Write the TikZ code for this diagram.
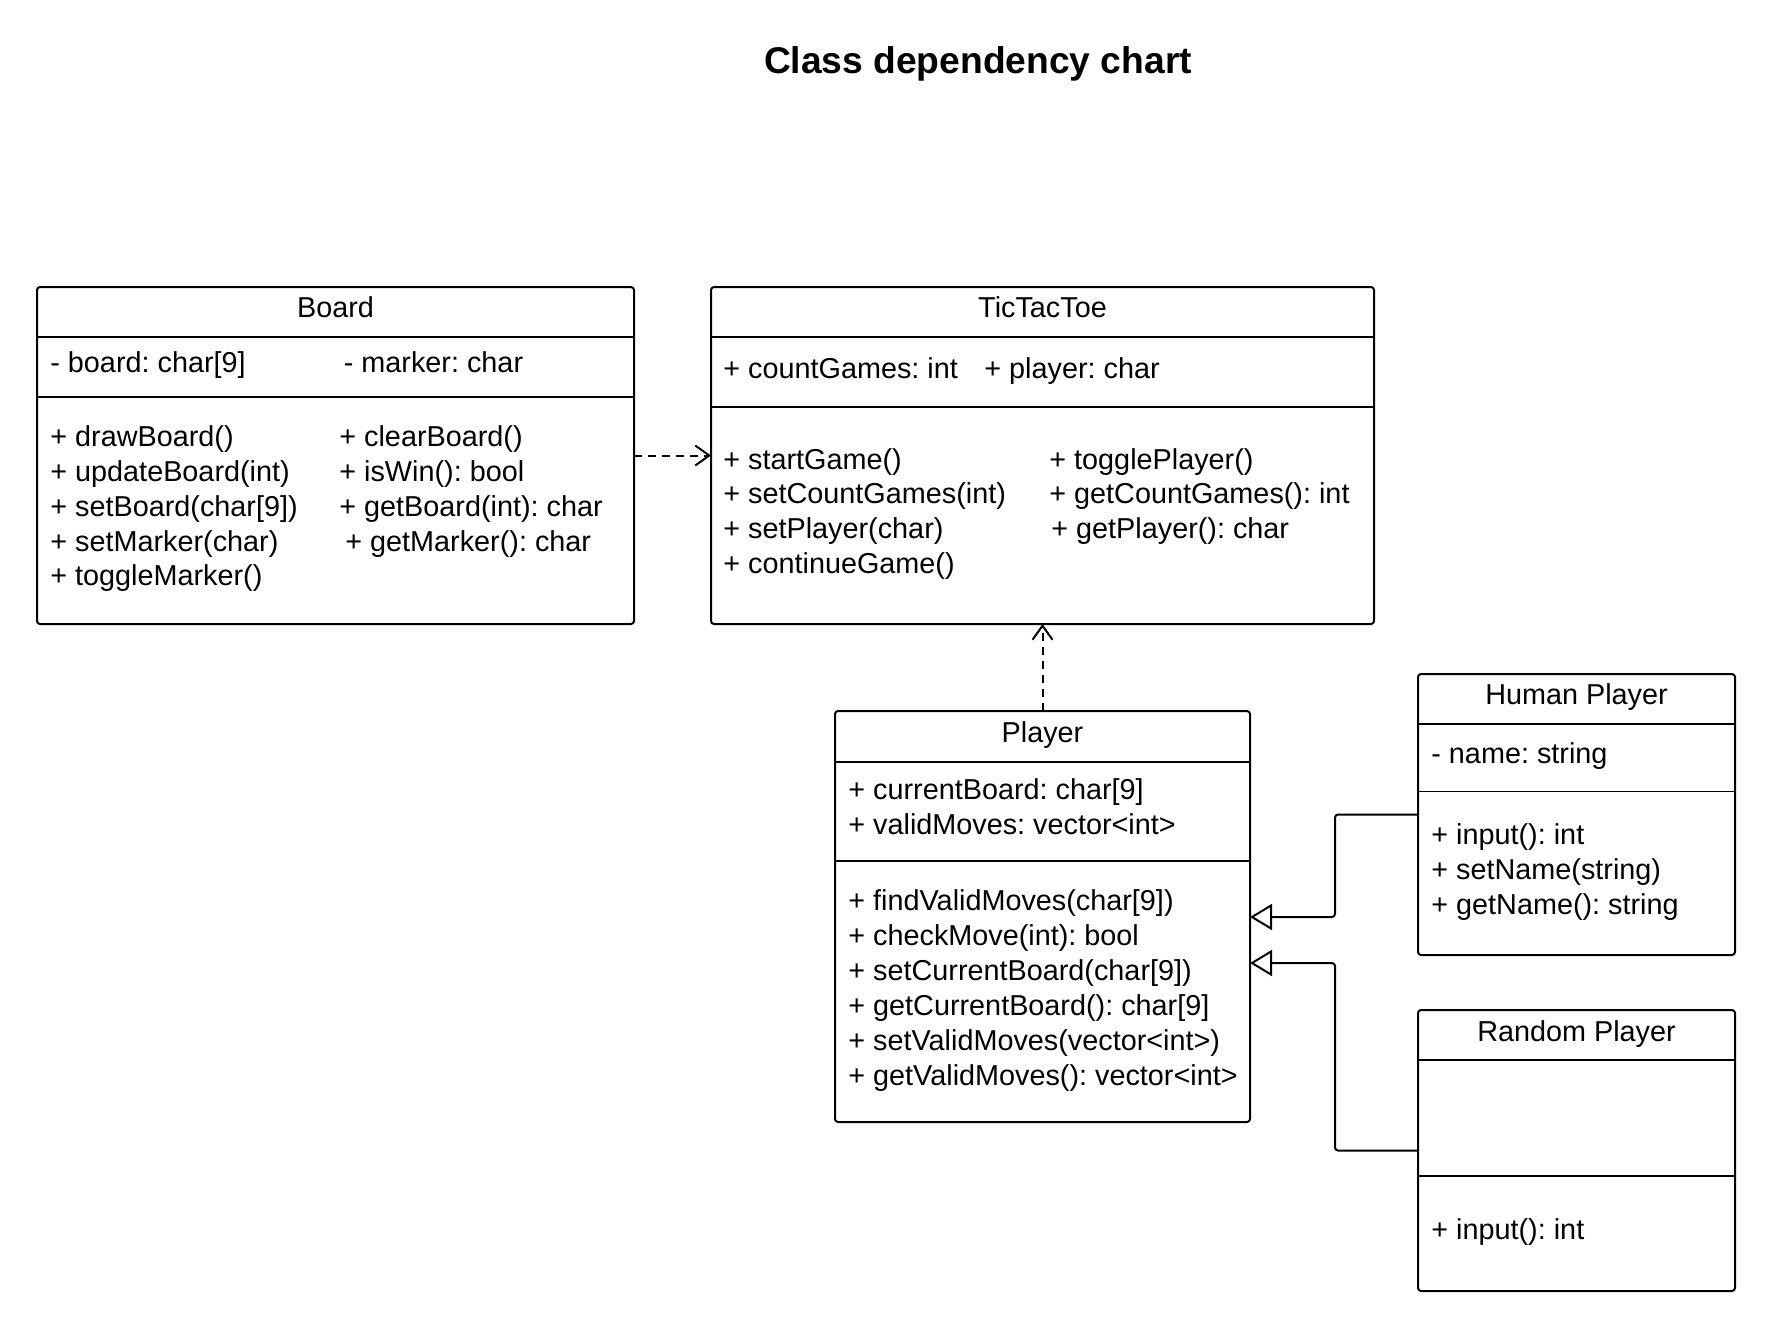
\documentclass[tikz,border=0pt]{standalone}
\usepackage{fontspec}
\setmainfont{Liberation Sans}
\usetikzlibrary{arrows.meta}
\begin{document}
\frenchspacing
\begin{tikzpicture}[x=0.5pt,y=-0.5pt,
 classbox/.style={draw, line width=1pt, rounded corners=1.5pt, anchor=north west, inner sep=0, outer sep=0},
 sepline/.style={line width=1pt},
 thinsep/.style={line width=0.5pt},
 txt/.style={anchor=west, inner sep=0, yshift=-2.25pt, text height=0.72em, text depth=0.21em, font=\fontsize{14.4}{17.5}\selectfont},
 ttl/.style={anchor=center, inner sep=0, yshift=-2.25pt, text height=0.72em, text depth=0.21em, font=\fontsize{14.4}{17.5}\selectfont},
 dep/.style={line width=1pt, dash pattern=on 4pt off 3pt, -{Straight Barb[length=7pt,width=10pt]}},
 inh/.style={line width=1pt, rounded corners=1.5pt, -{Triangle[open,length=11pt,width=13pt]}},
]
\useasboundingbox (0,0) rectangle (1772,1329);

\node[font=\bfseries\fontsize{18.6}{22}\selectfont, inner sep=0, yshift=-1.7pt] (title) at (978,60) {Class dependency chart};

% boxes
\node[classbox, minimum width=298.5pt, minimum height=168.5pt] (board) at (37,287) {};
\node[classbox, minimum width=331.5pt, minimum height=168.5pt] (ttt) at (711,287) {};
\node[classbox, minimum width=207.5pt, minimum height=205.5pt] (player) at (835,711) {};
\node[classbox, minimum width=158.5pt, minimum height=140.5pt] (human) at (1418,674) {};
\node[classbox, minimum width=158.5pt, minimum height=140.5pt] (random) at (1418,1010) {};

% separators
\draw[sepline] (board.west |- 0,337) -- (board.east |- 0,337);
\draw[sepline] (board.west |- 0,397) -- (board.east |- 0,397);
\draw[sepline] (ttt.west |- 0,337) -- (ttt.east |- 0,337);
\draw[sepline] (ttt.west |- 0,407) -- (ttt.east |- 0,407);
\draw[sepline] (player.west |- 0,762) -- (player.east |- 0,762);
\draw[sepline] (player.west |- 0,861) -- (player.east |- 0,861);
\draw[sepline] (human.west |- 0,724) -- (human.east |- 0,724);
\draw[thinsep] (human.west |- 0,791) -- (human.east |- 0,791);
\draw[sepline] (random.west |- 0,1060) -- (random.east |- 0,1060);
\draw[sepline] (random.west |- 0,1176) -- (random.east |- 0,1176);

% Board texts
\node[ttl] (board-t) at (335.5,308) {Board};
\node[txt] (board-a1) at (50,363) {- board: char[9]};
\node[txt] (board-a2) at (343.5,363) {- marker: char};
\node[txt] (board-m1) at (50,437) {+ drawBoard()};
\node[txt] (board-m2) at (50,472) {+ updateBoard(int)};
\node[txt] (board-m3) at (50,507) {+ setBoard(char[9])};
\node[txt] (board-m4) at (50,542) {+ setMarker(char)};
\node[txt] (board-m5) at (50,576) {+ toggleMarker()};
\node[txt] (board-m6) at (339,437) {+ clearBoard()};
\node[txt] (board-m7) at (339,472) {+ isWin(): bool};
\node[txt] (board-m8) at (339,507) {+ getBoard(int): char};
\node[txt] (board-m9) at (345,542) {+ getMarker(): char};

% TicTacToe texts
\node[ttl] (ttt-t) at (1042.5,308) {TicTacToe};
\node[txt] (ttt-a1) at (723,369) {+ countGames: int};
\node[txt] (ttt-a2) at (984,369) {+ player: char};
\node[txt] (ttt-m1) at (723,460) {+ startGame()};
\node[txt] (ttt-m2) at (723,494) {+ setCountGames(int)};
\node[txt] (ttt-m3) at (723,529) {+ setPlayer(char)};
\node[txt] (ttt-m4) at (723,564) {+ continueGame()};
\node[txt] (ttt-m5) at (1049,460) {+ togglePlayer()};
\node[txt] (ttt-m6) at (1049,494) {+ getCountGames(): int};
\node[txt] (ttt-m7) at (1051,529) {+ getPlayer(): char};

% Player texts
\node[ttl] (player-t) at (1042.5,733) {Player};
\node[txt] (player-a1) at (848,790) {+ currentBoard: char[9]};
\node[txt] (player-a2) at (848,825) {+ validMoves: vector<int>};
\node[txt] (player-m1) at (848,901) {+ findValidMoves(char[9])};
\node[txt] (player-m2) at (848,936) {+ checkMove(int): bool};
\node[txt] (player-m3) at (848,971) {+ setCurrentBoard(char[9])};
\node[txt] (player-m4) at (848,1006) {+ getCurrentBoard(): char[9]};
\node[txt] (player-m5) at (848,1041) {+ setValidMoves(vector<int>)};
\node[txt] (player-m6) at (848,1076) {+ getValidMoves(): vector<int>};

% Human Player texts
\node[ttl] (human-t) at (1576.5,695) {Human Player};
\node[txt] (human-a1) at (1431,754) {- name: string};
\node[txt] (human-m1) at (1431,835) {+ input(): int};
\node[txt] (human-m2) at (1431,870) {+ setName(string)};
\node[txt] (human-m3) at (1431,905) {+ getName(): string};

% Random Player texts
\node[ttl] (random-t) at (1576.5,1032) {Random Player};
\node[txt] (random-m1) at (1431,1230) {+ input(): int};

% connectors
\draw[dep] (board.east) -- (ttt.west);
\draw[dep] (player.north) -- (ttt.south);
\draw[inh] (human.west) -- (1335,814.5) -- (1335,917) -- (player.east |- 0,917);
\draw[inh] (random.west) -- (1335,1150.5) -- (1335,963) -- (player.east |- 0,963);
\end{tikzpicture}
\end{document}
